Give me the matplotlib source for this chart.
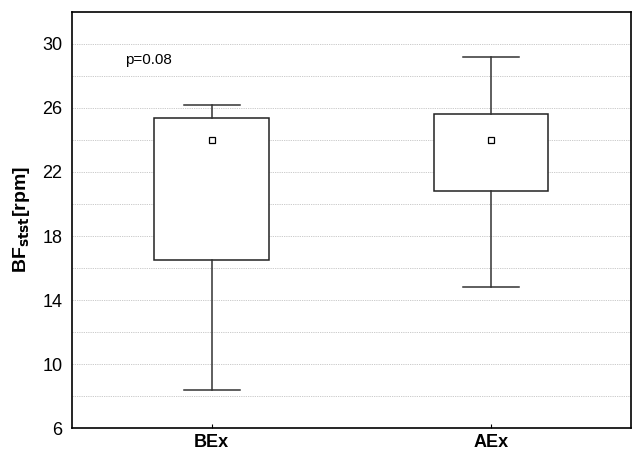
import matplotlib
matplotlib.use("Agg")
import matplotlib.pyplot as plt

plt.rcParams["font.family"] = ["Liberation Sans", "DejaVu Sans"]

# box summaries
groups = ["BEx", "AEx"]
whisker_low = [8.4, 14.8]
box_low = [16.5, 20.8]
center = [24.0, 24.0]
box_high = [25.4, 25.6]
whisker_high = [26.2, 29.2]
p_text = "p=0.08"


def main():
    fig = plt.figure(figsize=(6.32, 4.55), dpi=100)
    ax = fig.add_axes([0.114, 0.059, 0.884, 0.915])

    stats = []
    for g, wl, q1, m, q3, wh in zip(groups, whisker_low, box_low, center, box_high, whisker_high):
        stats.append(dict(label=g, whislo=wl, q1=q1, med=m, q3=q3, whishi=wh, mean=m, fliers=[]))

    ax.bxp(
        stats,
        positions=range(len(groups)),
        widths=0.41,
        showmeans=True,
        patch_artist=True,
        boxprops=dict(facecolor="white", edgecolor="#222222", linewidth=1.1),
        medianprops=dict(linewidth=0),
        whiskerprops=dict(color="#333333", linewidth=1.1),
        capprops=dict(color="#333333", linewidth=1.1),
        capwidths=0.2,
        meanprops=dict(marker="s", markerfacecolor="white", markeredgecolor="black",
                       markersize=5, markeredgewidth=0.9),
        zorder=3,
    )

    ax.set_xlim(-0.5, 1.5)
    ax.set_ylim(6, 32)
    ax.set_yticks(range(6, 31, 4))
    ax.set_yticks(range(8, 32, 4), minor=True)
    ax.grid(True, which="both", axis="y", color="#c4c4c4", linestyle=(0, (1.5, 1.2)), linewidth=0.6)
    ax.set_axisbelow(True)

    ax.tick_params(axis="y", which="both", length=0, labelsize=13, pad=7)
    ax.tick_params(axis="x", length=3, direction="in", labelsize=13, pad=4)
    for lab in ax.get_xticklabels():
        lab.set_fontweight("bold")
    for s in ax.spines.values():
        s.set_linewidth(1.2)

    ax.set_ylabel("BF$_{\\mathbf{stst}}$[rpm]", fontsize=14, fontweight="bold", labelpad=7)
    ax.text(-0.31, 29.0, p_text, fontsize=11, va="center", ha="left")

    fig.savefig("out.png", dpi=100)


if __name__ == "__main__":
    main()
